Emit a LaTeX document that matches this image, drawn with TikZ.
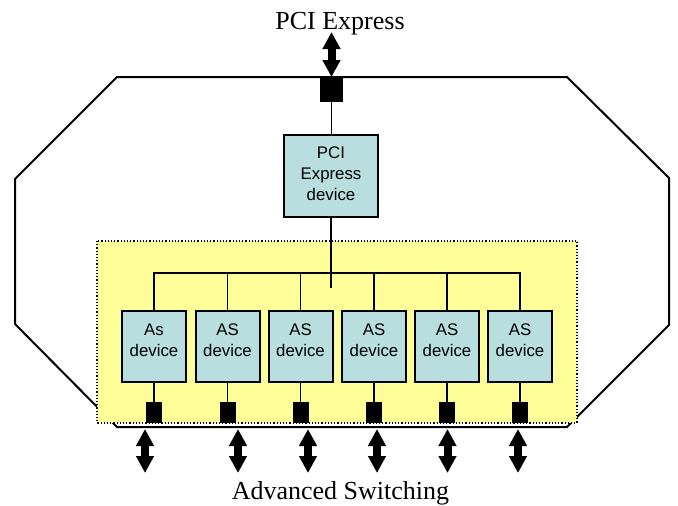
\documentclass[tikz,border=0pt]{standalone}
\usepackage{fontspec}
\setmainfont{Liberation Serif}
\setsansfont{Liberation Sans}
\usetikzlibrary{arrows.meta}
\definecolor{ylw}{RGB}{255,255,153}
\definecolor{lblue}{RGB}{184,222,224}
\begin{document}
\begin{tikzpicture}[x=1pt,y=-1pt,
  devbox/.style={draw=black, line width=2pt, fill=lblue, minimum width=64pt, minimum height=71pt, inner sep=0pt, outer sep=0pt},
  pcibox/.style={devbox, minimum width=94pt, minimum height=82pt},
  port/.style={fill=black, draw=none, minimum width=16pt, minimum height=21pt, inner sep=0pt, outer sep=0pt},
  lbl/.style={font=\sffamily\fontsize{16.8}{21}\selectfont, align=center, inner sep=0pt},
  wire/.style={line width=1.8pt},
  outline/.style={line width=2pt, line join=miter},
  bigtxt/.style={font=\fontsize{26}{30}\selectfont, inner sep=0pt},
  dbl/.style={line width=8pt, {Triangle[width=17pt,length=17pt]}-{Triangle[width=17pt,length=17pt]}}
]
\useasboundingbox (0,0) rectangle (678,506);

% outer octagon
\draw[outline] (117,77) -- (567,77) -- (669,178) -- (669,325) -- (567,427) -- (117,427) -- (15,324) -- (15,179) -- cycle;

% yellow region
\draw[dotted, line width=1.2pt, fill=ylw] (97,241) rectangle (577,423);

% texts
\node[bigtxt, anchor=base] (tpci) at (340,29) {PCI Express};
\node[bigtxt, anchor=base] (tas) at (340.5,499) {Advanced Switching};

% PCI Express device and its port
\node[port, minimum width=23pt, minimum height=25pt] (pt) at (331.5,89.5) {};
\node[pcibox] (pci) at (331,176) {};
\node[lbl] (pcil) at ([yshift=2pt]pci.center) {PCI\\Express\\device};
\coordinate (ptop) at (331.5,32);
\draw[dbl] (pt.north) -- (ptop);
\draw[wire] (pt.south) -- (pt.south |- pci.north);

% AS devices
\foreach \i/\x/\t in {1/154/As, 2/227.5/AS, 3/300.5/AS, 4/374/AS, 5/447/AS, 6/520/AS}{
  \node[devbox] (as\i) at (\x,346.5) {};
  \node[lbl] (asl\i) at ([yshift=6pt]as\i.center) {\t\\device};
  \node[port] (p\i) at (\x,412.5) {};
  \draw[wire] (as\i.south) -- (p\i.north);
}

% bus
\coordinate (busL) at (154,273);
\coordinate (stub) at (331,288);
\draw[wire] (pci.south) -- (stub);
\draw[wire] (as1.north) -- (as1.north |- busL) -- (as6.north |- busL) -- (as6.north);
\foreach \i in {2,3,4,5}{
  \draw[wire] (as\i.north) -- (as\i.north |- busL);
}

% bottom arrows
\foreach \i/\x in {1/145, 2/238, 3/308, 4/377, 5/447.5, 6/518}{
  \coordinate (a\i) at (\x,429);
  \coordinate (b\i) at (\x,473);
  \draw[dbl] (a\i) -- (b\i);
}
\end{tikzpicture}
\end{document}
